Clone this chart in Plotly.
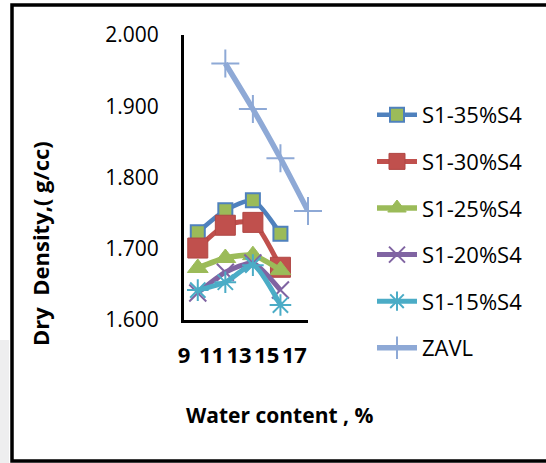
import plotly.graph_objects as go

# Compaction results: water content (%) vs dry density (g/cc)
water_content = [10, 12, 14, 16]
s1_35 = [1.723, 1.754, 1.768, 1.721]
s1_30 = [1.701, 1.733, 1.737, 1.674]
s1_25 = [1.673, 1.687, 1.691, 1.670]
s1_20 = [1.638, 1.667, 1.680, 1.642]
s1_15 = [1.642, 1.653, 1.677, 1.621]

# Zero air voids line
zavl_water = [12, 14, 16, 18]
zavl_density = [1.960, 1.896, 1.827, 1.753]

x_ticks = [9, 11, 13, 15, 17]
y_ticks = [1.6, 1.7, 1.8, 1.9, 2.0]

W, H = 546, 463
L, R, T, B = 184, 308, 35, 320  # plot area in pixels


def px(x):
    return (x - L) / (R - L)


def py(y):
    return (B - y) / (B - T)


FONT = "Open Sans"

series = [
    ("S1-35%S4", water_content, s1_35, dict(color="#4F81BD", width=4.5),
     dict(symbol="square", size=14, color="#9BBB59", line=dict(color="#4F81BD", width=2))),
    ("S1-30%S4", water_content, s1_30, dict(color="#C0504D", width=5),
     dict(symbol="square", size=20, color="#C0504D", line=dict(color="#B04744", width=1))),
    ("S1-25%S4", water_content, s1_25, dict(color="#9BBB59", width=5.5),
     dict(symbol="triangle-up", size=18, color="#9BBB59", line=dict(color="#9BBB59", width=1))),
    ("S1-20%S4", water_content, s1_20, dict(color="#8064A2", width=5),
     dict(symbol="x-thin", size=17, color="#8064A2", line=dict(color="#8064A2", width=2))),
    ("S1-15%S4", water_content, s1_15, dict(color="#4BACC6", width=5),
     dict(symbol="asterisk", size=18, color="#4BACC6", line=dict(color="#4BACC6", width=2))),
    ("ZAVL", zavl_water, zavl_density, dict(color="#8EA9D6", width=5.5),
     dict(symbol="cross-thin", size=20, color="#8EA9D6", line=dict(color="#8EA9D6", width=2))),
]

fig = go.Figure()
for i, (name, xs, ys, line, marker) in enumerate(series):
    fig.add_trace(go.Scatter(
        x=xs, y=ys, name=name, mode="lines+markers",
        line=dict(shape="spline", smoothing=0.6, **line),
        marker=marker, legendgroup=f"g{i}", cliponaxis=False,
    ))

fig.update_layout(
    width=W, height=H,
    margin=dict(l=L, r=W - R, t=T, b=H - B),
    paper_bgcolor="white", plot_bgcolor="white",
    font=dict(family=FONT, color="#000000"),
    showlegend=True,
    legend=dict(
        x=px(372), y=py(94), xanchor="left", yanchor="top",
        font=dict(family=FONT, size=22, color="#000000"),
        tracegroupgap=15, itemwidth=40, maxheight=420,
        bgcolor="rgba(0,0,0,0)",
    ),
    xaxis=dict(
        range=[9, 18], tickvals=x_ticks, ticktext=[str(v) for v in x_ticks],
        showline=True, linecolor="#000000", linewidth=3,
        showgrid=False, zeroline=False, ticks="",
        tickfont=dict(family=FONT, size=22, color="#000000", weight="bold"),
        ticklabelstandoff=14,
    ),
    yaxis=dict(
        range=[1.6, 2.0], tickvals=y_ticks, tickformat=".3f",
        showline=True, linecolor="#000000", linewidth=3,
        showgrid=False, zeroline=False, ticks="",
        tickfont=dict(family=FONT, size=21, color="#000000"),
        ticklabelstandoff=18,
    ),
    annotations=[
        dict(text="Water content , %", x=px(279), y=py(415), xref="paper", yref="paper",
             showarrow=False, xanchor="center", yanchor="middle",
             font=dict(family=FONT, size=21, color="#000000", weight="bold")),
        dict(text="Dry\u00a0 Density,( g/cc)", x=px(40), y=py(244), xref="paper", yref="paper",
             showarrow=False, xanchor="center", yanchor="middle", textangle=-90,
             font=dict(family=FONT, size=22, color="#000000", weight="bold")),
    ],
    shapes=[
        # chart frame
        dict(type="rect", xref="paper", yref="paper",
             x0=px(12), x1=px(W + 10), y0=py(461), y1=py(5),
             line=dict(color="#000000", width=3.5), fillcolor="rgba(0,0,0,0)", layer="above"),
        # faint grey strip at the lower left edge
        dict(type="rect", xref="paper", yref="paper",
             x0=px(0), x1=px(9), y0=py(463), y1=py(340),
             line=dict(width=0), fillcolor="rgba(205,205,210,0.35)", layer="below"),
    ],
)

fig.write_html("out.html")
